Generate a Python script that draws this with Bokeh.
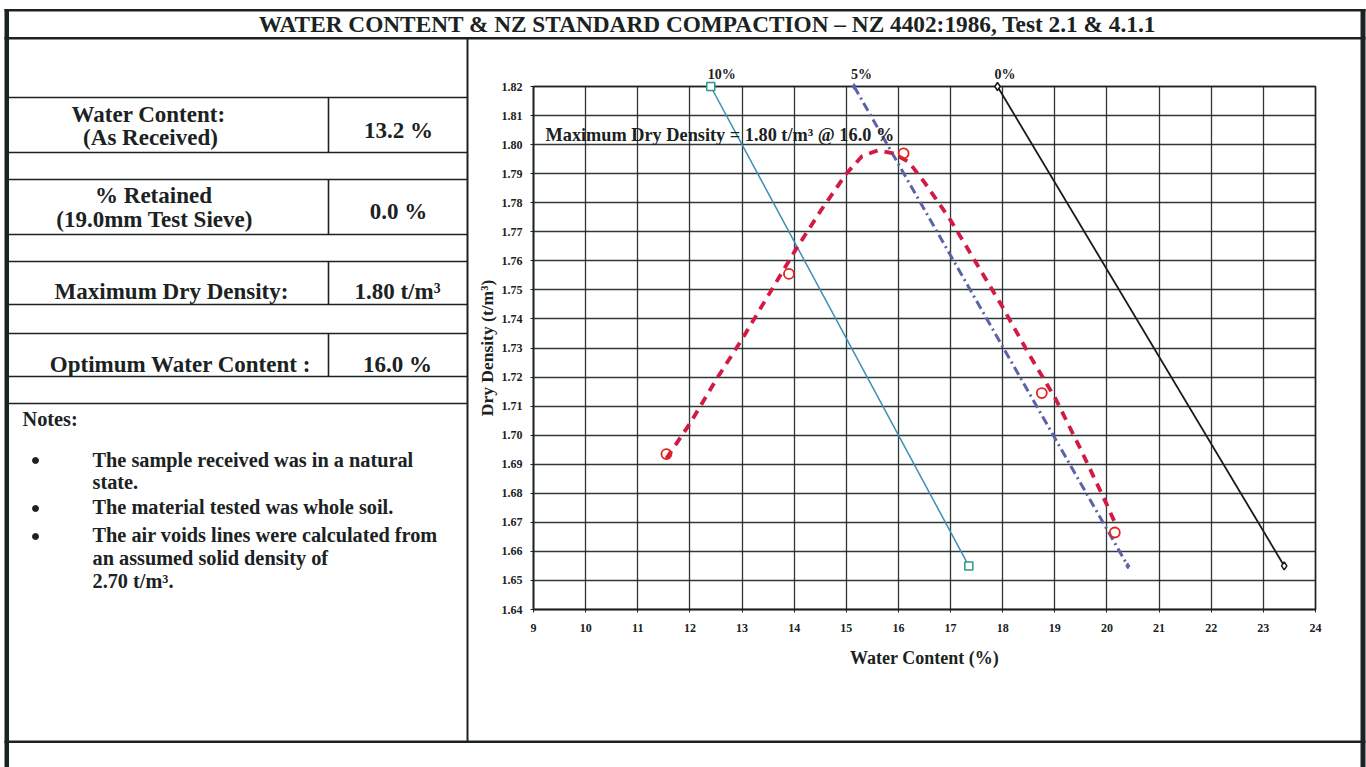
from bokeh.plotting import figure
from bokeh.models import Range1d, FixedTicker, PrintfTickFormatter, LinearAxis, Grid
from bokeh.embed import file_html
from bokeh.resources import INLINE
from bokeh.core.properties import value

# ---------------- data ----------------
test_water = [11.55, 13.9, 16.1, 18.75, 20.15]
test_density = [1.6935, 1.7555, 1.797, 1.7145, 1.6665]

curve_water = [11.55, 12.0, 12.5, 13.0, 13.5, 14.0, 14.5, 15.0, 15.3, 15.6, 15.9,
               16.2, 16.5, 17.0, 17.5, 18.0, 18.5, 19.0, 19.5, 20.0, 20.15]
curve_density = [1.692, 1.704, 1.719, 1.733, 1.748, 1.763, 1.777, 1.790, 1.796, 1.798, 1.797,
                 1.794, 1.787, 1.774, 1.759, 1.744, 1.728, 1.713, 1.695, 1.676, 1.670]

av10_water = [12.4, 17.35]
av10_density = [1.82, 1.655]
av5_water = [15.15, 20.4]
av5_density = [1.82, 1.655]
av0_water = [17.9, 23.4]
av0_density = [1.82, 1.655]
air_void_labels = ["10%", "5%", "0%"]

x_ticks = [9, 10, 11, 12, 13, 14, 15, 16, 17, 18, 19, 20, 21, 22, 23, 24]
y_ticks = [1.64, 1.65, 1.66, 1.67, 1.68, 1.69, 1.70, 1.71, 1.72, 1.73, 1.74,
           1.75, 1.76, 1.77, 1.78, 1.79, 1.80, 1.81, 1.82]

max_dry_density = 1.80
optimum_water = 16.0
water_as_received = 13.2
retained = 0.0

title_text = "WATER CONTENT & NZ STANDARD COMPACTION \u2013 NZ 4402:1986, Test 2.1 & 4.1.1"
row_labels = ["Water Content:", "(As Received)", "% Retained", "(19.0mm Test Sieve)",
              "Maximum Dry Density:", "Optimum Water Content :"]
note_lines = ["The sample received was in a natural", "state.",
              "The material tested was whole soil.",
              "The air voids lines were calculated from",
              "an assumed solid density of", "2.70 t/m\u00b3."]

FONT = value("Liberation Serif")
INK = "#1b2222"
W, H = 1366, 767


def below(baselines, fs):
    # text is anchored by its bottom edge: baseline plus the font's descent
    return [b + 0.22 * fs for b in baselines]


# page canvas in pixel coordinates (y downwards)
p = figure(width=W, height=H, x_range=Range1d(0, W), y_range=Range1d(H, 0),
           x_axis_type=None, y_axis_type=None, toolbar_location=None,
           output_backend="svg", min_border=0, outline_line_color=None,
           background_fill_color="white", border_fill_color="white")

# ---------------- page frame ----------------
p.quad(left=[4, 4, 4, 4, 1360, 466],
       right=[1365, 1365, 1365, 8.5, 1365, 468],
       top=[8.5, 36.5, 740, 8.5, 8.5, 38],
       bottom=[11, 39, 742.5, 767, 767, 741],
       color=INK, line_color=None)

p.text(x=[707], y=below([31], 23.3), text=[title_text], text_font=FONT, text_font_style="bold",
       text_font_size="23.3px", text_align="center", text_baseline="bottom", text_color=INK)

# ---------------- summary table ----------------
hy = [97, 152, 179, 234, 261, 304, 333, 376, 403]
p.segment(x0=[8] * len(hy), y0=hy, x1=[467] * len(hy), y1=hy, line_color=INK, line_width=1.6)
p.segment(x0=[328] * 4, y0=[97, 179, 261, 333], x1=[328] * 4, y1=[152, 234, 304, 376],
          line_color=INK, line_width=1.6)

p.text(x=[148, 150, 153, 154, 171, 180], y=below([121, 144, 202, 226, 298, 371], 23),
       text=row_labels, text_font=FONT, text_font_style="bold", text_font_size="23px",
       text_align="center", text_baseline="bottom", text_color=INK)
val_text = ["%.1f %%" % water_as_received, "%.1f %%" % retained,
            "%.2f t/m\u00b3" % max_dry_density, "%.1f %%" % optimum_water]
p.text(x=[398, 398, 397, 397], y=below([137, 218, 298, 371], 23), text=val_text,
       text_font=FONT, text_font_style="bold", text_font_size="23px", text_align="center",
       text_baseline="bottom", text_color=INK)

p.text(x=[22], y=below([425], 20.3), text=["Notes:"], text_font=FONT, text_font_style="bold",
       text_font_size="20.3px", text_align="left", text_baseline="bottom", text_color=INK)
p.text(x=[92] * 6, y=below([466, 488, 513, 541, 564, 587], 20.3), text=note_lines,
       text_font=FONT, text_font_style="bold", text_font_size="20.3px", text_align="left",
       text_baseline="bottom", text_color=INK)
p.scatter(x=[35, 35, 35], y=[460, 508, 536], size=6, color=INK)

# ---------------- chart scales ----------------
FX0, FX1, FY0, FY1 = 533, 1315, 86, 609   # chart frame in page pixels
x_lo, x_hi = x_ticks[0], x_ticks[-1]
y_lo, y_hi = y_ticks[0], y_ticks[-1]
kx = (x_hi - x_lo) / (FX1 - FX0)
ky = (y_hi - y_lo) / (FY1 - FY0)
p.extra_x_ranges = {"wc": Range1d(x_lo - FX0 * kx, x_hi + (W - FX1) * kx)}
p.extra_y_ranges = {"dd": Range1d(y_lo - (H - FY1) * ky, y_hi + FY0 * ky)}
R = dict(x_range_name="wc", y_range_name="dd")

xa = LinearAxis(fixed_location=y_lo, bounds=(x_lo, x_hi), ticker=FixedTicker(ticks=x_ticks),
                formatter=PrintfTickFormatter(format="%d"), axis_label="Water Content (%)", **R)
ya = LinearAxis(fixed_location=x_lo, bounds=(y_lo, y_hi), ticker=FixedTicker(ticks=y_ticks),
                formatter=PrintfTickFormatter(format="%.2f"), axis_label="Dry Density (t/m\u00b3)", **R)
for ax in (xa, ya):
    ax.major_label_text_font = "Liberation Serif"
    ax.major_label_text_font_style = "bold"
    ax.major_label_text_font_size = "12px"
    ax.major_label_text_color = INK
    ax.major_tick_out = 3
    ax.major_tick_in = 0
    ax.major_tick_line_color = INK
    ax.minor_tick_line_color = None
    ax.axis_line_color = INK
    ax.axis_line_width = 1.5
    ax.axis_label_text_font = "Liberation Serif"
    ax.axis_label_text_font_style = "bold"
    ax.axis_label_text_color = INK
xa.major_label_standoff = 11
ya.major_label_standoff = 8
xa.axis_label_text_font_size = "18px"
xa.axis_label_standoff = 13
ya.axis_label_text_font_size = "17.5px"
ya.axis_label_standoff = 2
p.add_layout(xa, "below")
p.add_layout(ya, "left")

has_cross = "cross_bounds" in Grid.properties()
for dim, ax, cb in ((0, xa, (y_lo, y_hi)), (1, ya, (x_lo, x_hi))):
    g = Grid(dimension=dim, ticker=ax.ticker, grid_line_color=INK, grid_line_width=1.3,
             grid_line_alpha=0.9, **R)
    if has_cross:
        g.cross_bounds = cb
        p.add_layout(g)
if not has_cross:
    p.segment(x0=x_ticks, y0=[y_lo] * len(x_ticks), x1=x_ticks, y1=[y_hi] * len(x_ticks),
              line_color=INK, line_width=1.3, line_alpha=0.9, **R)
    p.segment(x0=[x_lo] * len(y_ticks), y0=y_ticks, x1=[x_hi] * len(y_ticks), y1=y_ticks,
              line_color=INK, line_width=1.3, line_alpha=0.9, **R)
p.quad(left=[x_lo], right=[x_hi], bottom=[y_lo], top=[y_hi], fill_color=None,
       line_color=INK, line_width=1.5, **R)

# ---------------- series ----------------
p.line(av10_water, av10_density, line_color="#3d8fb5", line_width=1.5, **R)
p.scatter(av10_water, av10_density, marker="square", size=8, fill_color="white",
          line_color="#2a9a84", line_width=1.5, **R)
p.line(av5_water, av5_density, line_color="#5a63a8", line_width=3, line_dash="9 4 2 4", **R)
p.scatter(av5_water, av5_density, marker="diamond", size=6, fill_color="#5a63a8",
          line_color="#5a63a8", **R)
p.line(av0_water, av0_density, line_color="#1a1a1a", line_width=1.8, **R)
p.scatter(av0_water, av0_density, marker="diamond", size=8, fill_color="white",
          line_color="#1a1a1a", line_width=1.5, **R)
p.line(curve_water, curve_density, line_color="#d31a45", line_width=3.8, line_dash="9 7", **R)
p.scatter(test_water, test_density, marker="circle", size=10, fill_color=None,
          line_color="#e2231a", line_width=1.8, **R)

p.text(x=[av10_water[0], av5_water[0], av0_water[0]],
       y=[av10_density[0], av5_density[0], av0_density[0]], text=air_void_labels,
       x_offset=-3, y_offset=-5, text_align="left", text_baseline="bottom", text_font=FONT,
       text_font_style="bold", text_font_size="14px", text_color=INK, **R)
p.text(x=[9.23], y=[1.8011],
       text=["Maximum Dry Density = %.2f t/m\u00b3 @ %.1f %%" % (max_dry_density, optimum_water)],
       y_offset=4, text_align="left", text_baseline="bottom", text_font=FONT,
       text_font_style="bold", text_font_size="18.3px", text_color=INK, **R)

open("out.html", "w").write(file_html(p, INLINE))
